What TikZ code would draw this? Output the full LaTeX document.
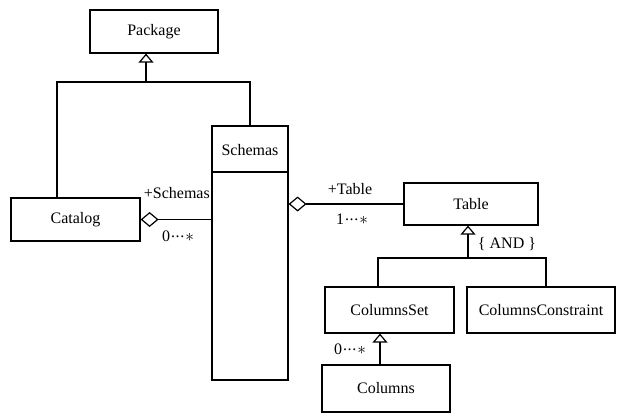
\documentclass[tikz,border=0pt]{standalone}
\usepackage{fontspec}
\setmainfont{Liberation Serif}
\usetikzlibrary{arrows.meta}
\newcommand{\mydots}{\kern1pt\raisebox{0.55ex}{.\kern0.6pt.\kern0.6pt.}\kern1pt}
\begin{document}
\begin{tikzpicture}[x=1pt,y=-1pt,
  box/.style={draw,line width=1.2pt,rectangle,inner sep=0pt,font=\fontsize{16}{18}\selectfont},
  lbl/.style={inner sep=0pt,font=\fontsize{16}{18}\selectfont},
  conn/.style={line width=1.2pt},
  gen/.style={conn,-{Triangle[open,width=15pt,length=9pt,line width=1.2pt]}},
  agg/.style={conn,-{Diamond[open,width=15pt,length=18pt,line width=1.2pt]}}]
\useasboundingbox (0,0) rectangle (618,413);
\node[box,minimum width=128pt,minimum height=43pt] (Package) at (154,31.5) {Package};
\node[box,minimum width=129pt,minimum height=43pt] (Catalog) at (75.5,219.5) {Catalog};
\node[box,minimum width=76pt,minimum height=254pt] (Schemas) at (250,253) {};
\node[lbl] (SchemasName) at (250,150) {Schemas};
\coordinate (sdiv) at (250,172);
\draw[conn] (Schemas.west |- sdiv) -- (Schemas.east |- sdiv);
\node[box,minimum width=134pt,minimum height=42pt] (Table) at (471,204) {Table};
\node[box,minimum width=129pt,minimum height=46pt] (ColumnsSet) at (389.5,310) {ColumnsSet};
\node[box,minimum width=148pt,minimum height=46pt] (ColumnsConstraint) at (541,310) {ColumnsConstraint};
\node[box,minimum width=128pt,minimum height=47pt] (Columns) at (386,388.5) {Columns};
% generalization to Package
\coordinate (pl) at (57,82);
\coordinate (pr) at (250,82);
\coordinate (pj) at (146,82);
\draw[conn] (Catalog.north -| pl) -- (pl) -- (pr) -- (Schemas.north);
\draw[gen] (pj) -- (Package.south -| pj);
% aggregations
\draw[agg] (Schemas.west |- Catalog.east) -- (Catalog.east);
\draw[agg] (Table.west) -- (Schemas.east |- Table.west);
\node[lbl,anchor=east] (l1) at (210,193) {+Schemas};
\node[lbl] (l2) at (178,236) {0\mydots$\ast$};
\node[lbl] (l3) at (350,189) {+Table};
\node[lbl] (l4) at (352,219) {1\mydots$\ast$};
% generalization to Table
\coordinate (tl) at (378,258);
\coordinate (tr) at (546,258);
\coordinate (tj) at (468,258);
\draw[conn] (ColumnsSet.north -| tl) -- (tl) -- (tr) -- (ColumnsConstraint.north -| tr);
\draw[gen] (tj) -- (Table.south -| tj);
\node[lbl] (l5) at (507,244) {\{ AND \}};
% Columns to ColumnsSet
\coordinate (cj) at (380,365);
\draw[gen] (Columns.north -| cj) -- (ColumnsSet.south -| cj);
\node[lbl] (l6) at (350,349) {0\mydots$\ast$};
\end{tikzpicture}
\end{document}
